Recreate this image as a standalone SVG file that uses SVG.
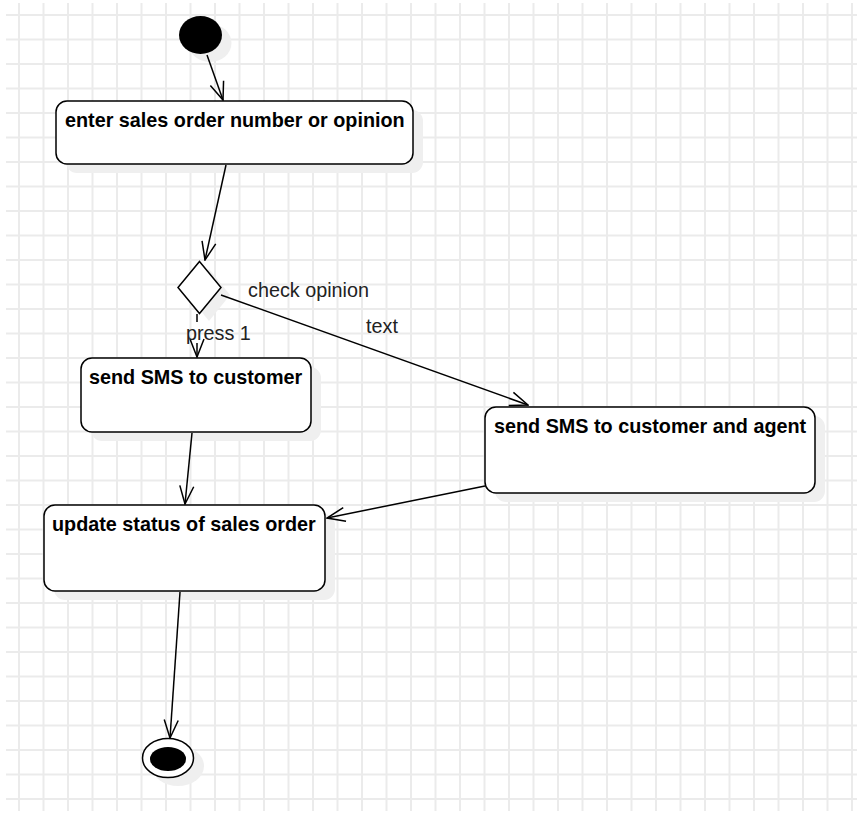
<svg xmlns="http://www.w3.org/2000/svg" width="857" height="814" viewBox="0 0 857 814">
<defs>
<pattern id="grid" x="19" y="15" width="24.5" height="24.5" patternUnits="userSpaceOnUse">
<rect x="-1" y="0" width="2" height="24.5" fill="#ebebeb"/>
<rect x="0" y="-1" width="24.5" height="2" fill="#ebebeb"/>
<rect x="23.5" y="0" width="2" height="24.5" fill="#ebebeb"/>
<rect x="0" y="23.5" width="24.5" height="2" fill="#ebebeb"/>
</pattern>
<marker id="arr" viewBox="0 0 20 20" refX="19" refY="10" markerWidth="20" markerHeight="20" markerUnits="userSpaceOnUse" orient="auto">
<path d="M1,3 L19,10 L1,17" fill="none" stroke="#000" stroke-width="1.5"/>
</marker>
</defs>
<style>
.box{fill:#fff;stroke:#000;stroke-width:1.5}
.sh{fill:#efefef}
.bt{font-family:"Liberation Sans",Arial,sans-serif;font-weight:bold;font-size:19.8px;fill:#000}
.lt{font-family:"Liberation Sans",Arial,sans-serif;font-size:19.8px;fill:#222}
.edge{fill:none;stroke:#000;stroke-width:1.5;marker-end:url(#arr)}
</style>
<rect width="857" height="814" fill="#fff"/>
<rect x="6" y="3" width="851" height="808" fill="url(#grid)"/>

<g id="start">
<ellipse class="sh" cx="210" cy="43" rx="21.5" ry="19"/>
<ellipse cx="200.5" cy="35" rx="21.5" ry="19" fill="#000"/>
</g>
<g id="enter">
<rect class="sh" x="66" y="110" width="357" height="63" rx="11"/>
<rect class="box" x="56" y="101" width="357" height="63" rx="11"/>
<text class="bt" x="65" y="127">enter sales order number or opinion</text>
</g>
<g id="decision">
<polygon class="sh" points="209,269 230,295 209,321 188,295"/>
<polygon class="box" points="199.5,261.5 221,287.5 199.5,313.5 178,287.5"/>
</g>
<g id="sms">
<rect class="sh" x="91" y="367" width="230" height="74" rx="11"/>
<rect class="box" x="81" y="358" width="230" height="74" rx="11"/>
<text class="bt" x="89" y="384">send SMS to customer</text>
</g>
<g id="smsagent">
<rect class="sh" x="495" y="416" width="330" height="86" rx="11"/>
<rect class="box" x="485" y="407" width="330" height="86" rx="11"/>
<text class="bt" x="494" y="433">send SMS to customer and agent</text>
</g>
<g id="update">
<rect class="sh" x="54" y="514" width="281" height="86" rx="11"/>
<rect class="box" x="44" y="505" width="281" height="86" rx="11"/>
<text class="bt" x="52" y="531">update status of sales order</text>
</g>
<g id="end">
<ellipse class="sh" cx="178" cy="766" rx="26" ry="20"/>
<ellipse cx="168" cy="758" rx="25.5" ry="19.5" fill="#fff" stroke="#000" stroke-width="1.5"/>
<ellipse cx="168" cy="759" rx="18" ry="12" fill="#000"/>
</g>

<g id="connectors">
<path class="edge" d="M207,55 L223,100"/>
<path class="edge" d="M226,165 L205,260"/>
<path class="edge" d="M221,295 L528,405"/>
<path fill="none" stroke="#000" stroke-width="1.5" d="M197,314 L197,322"/>
<path class="edge" d="M197,343 L197,357"/>
<path class="edge" d="M192,433 L185,504"/>
<path class="edge" d="M485,486 L327,518"/>
<path class="edge" d="M180,592 L170,738"/>
<text class="lt" x="248" y="297">check opinion</text>
<text class="lt" x="366" y="333">text</text>
<text class="lt" x="186" y="340">press 1</text>
</g>
</svg>
